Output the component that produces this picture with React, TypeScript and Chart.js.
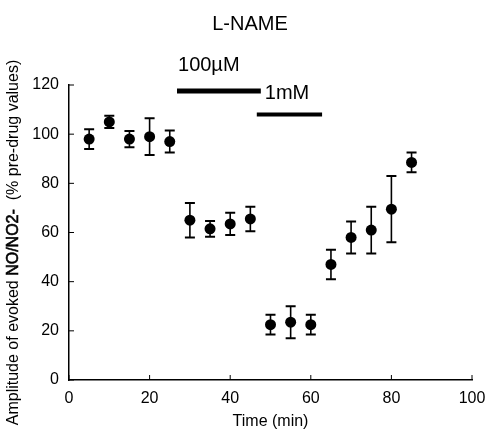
import React, { useEffect, useRef } from "react";
import { Chart, registerables } from "chart.js";

Chart.register(...registerables);

const TITLE = "L-NAME";
const X_TITLE = "Time (min)";
const Y_TITLE_PARTS = ["Amplitude of evoked ", "NO/NO2-", "  (% pre-drug values)"];

const times = [5, 10, 15, 20, 25, 30, 35, 40, 45, 50, 55, 60, 65, 70, 75, 80, 85];
const means = [98, 105, 98, 99, 97, 65, 61.5, 63.5, 65.5, 22.5, 23.5, 22.5, 47, 58, 61, 69.5, 88.5];
const errors = [4, 2.5, 3.3, 7.5, 4.5, 7, 3.2, 4.5, 5, 4, 6.5, 4, 6, 6.5, 9.5, 13.5, 4];

const xTicks = [0, 20, 40, 60, 80, 100];
const yTicks = [0, 20, 40, 60, 80, 100, 120];

const drugLabels = ["100\u00b5M", "1mM"];
const drugStart = [26.8, 46.6];
const drugEnd = [47.6, 62.8];
const drugLevel = [117.6, 108.0];

const FONT = "'Liberation Sans', Arial, Helvetica, sans-serif";

export default function App() {
  const ref = useRef<HTMLCanvasElement | null>(null);

  useEffect(() => {
    if (!ref.current) return;

    const overlay = {
      id: "overlay",
      afterDatasetsDraw(chart: any) {
        const ctx = chart.ctx;
        const xs = chart.scales.x;
        const ys = chart.scales.y;
        ctx.save();
        ctx.strokeStyle = "#000";
        // error bars
        for (let i = 0; i < times.length; i++) {
          const px = xs.getPixelForValue(times[i]);
          const top = ys.getPixelForValue(means[i] + errors[i]);
          const bot = ys.getPixelForValue(means[i] - errors[i]);
          ctx.lineWidth = 1.6;
          ctx.beginPath();
          ctx.moveTo(px, top);
          ctx.lineTo(px, bot);
          ctx.stroke();
          ctx.lineWidth = 2;
          ctx.beginPath();
          ctx.moveTo(px - 5, top);
          ctx.lineTo(px + 5, top);
          ctx.moveTo(px - 5, bot);
          ctx.lineTo(px + 5, bot);
          ctx.stroke();
        }
        // inward tick marks
        ctx.lineWidth = 1;
        const area = chart.chartArea;
        for (const t of yTicks) {
          const py = ys.getPixelForValue(t);
          ctx.beginPath();
          ctx.moveTo(area.left, py);
          ctx.lineTo(area.left + 5, py);
          ctx.stroke();
        }
        for (const t of xTicks) {
          const px = xs.getPixelForValue(t);
          ctx.beginPath();
          ctx.moveTo(px, area.bottom);
          ctx.lineTo(px, area.bottom - 5);
          ctx.stroke();
        }
        // drug application bars
        const widths = [5, 4];
        const labelDx = [1, 8];
        const labelDy = [20, 16];
        ctx.fillStyle = "#000";
        ctx.font = `20px ${FONT}`;
        ctx.textBaseline = "alphabetic";
        ctx.textAlign = "left";
        for (let i = 0; i < drugLabels.length; i++) {
          const x1 = xs.getPixelForValue(drugStart[i]);
          const x2 = xs.getPixelForValue(drugEnd[i]);
          const py = ys.getPixelForValue(drugLevel[i]);
          ctx.lineWidth = widths[i];
          ctx.beginPath();
          ctx.moveTo(x1, py);
          ctx.lineTo(x2, py);
          ctx.stroke();
          ctx.fillText(drugLabels[i], x1 + labelDx[i], py - labelDy[i]);
        }
        // title
        ctx.textAlign = "center";
        ctx.fillText(TITLE, 250, 30);

        // y-axis title (rotated; middle part slightly heavier)
        ctx.font = `16px ${FONT}`;
        let total = 0;
        const widthsT: number[] = [];
        for (let i = 0; i < Y_TITLE_PARTS.length; i++) {
          const w = ctx.measureText(Y_TITLE_PARTS[i]).width;
          widthsT.push(w);
          total += w;
        }
        ctx.translate(14, (area.top + area.bottom) / 2 + 10);
        ctx.rotate(-Math.PI / 2);
        ctx.textAlign = "left";
        ctx.textBaseline = "middle";
        ctx.lineWidth = 0.6;
        let cx = -total / 2;
        for (let i = 0; i < Y_TITLE_PARTS.length; i++) {
          ctx.fillText(Y_TITLE_PARTS[i], cx, 0);
          if (i === 1) ctx.strokeText(Y_TITLE_PARTS[i], cx, 0);
          cx += widthsT[i];
        }
        ctx.restore();
      },
    };

    const chart = new Chart(ref.current, {
      type: "scatter",
      data: {
        datasets: [
          {
            data: times.map((t, i) => ({ x: t, y: means[i] })),
            backgroundColor: "#000",
            borderColor: "#000",
            pointRadius: 5.5,
            pointHoverRadius: 5.5,
            borderWidth: 0,
          },
        ],
      },
      options: {
        animation: false,
        responsive: true,
        maintainAspectRatio: false,
        layout: { padding: { top: 85, right: 15, left: 0, bottom: 0 } },
        plugins: {
          legend: { display: false },
          tooltip: { enabled: false },
          title: { display: false },
        },
        scales: {
          x: {
            type: "linear",
            min: 0,
            max: 100,
            afterBuildTicks: (s: any) => {
              s.ticks = xTicks.map((v) => ({ value: v }));
            },
            afterFit: (s: any) => {
              s.height = 51;
              s.paddingLeft = 0;
              s.paddingRight = 13;
            },
            grid: { display: false, drawTicks: false },
            border: { display: true, color: "#000", width: 1.5 },
            ticks: {
              color: "#000",
              padding: 9,
              font: { family: FONT, size: 16 },
            },
            title: {
              display: true,
              text: X_TITLE,
              color: "#000",
              font: { family: FONT, size: 16 },
              padding: { top: 0, bottom: 0 },
            },
          },
          y: {
            type: "linear",
            min: 0,
            max: 120,
            afterBuildTicks: (s: any) => {
              s.ticks = yTicks.map((v) => ({ value: v }));
            },
            afterFit: (s: any) => {
              s.width = 69;
            },
            grid: { display: false, drawTicks: false },
            border: { display: true, color: "#000", width: 1.5 },
            ticks: {
              color: "#000",
              padding: 10,
              font: { family: FONT, size: 16 },
            },
          },
        },
      },
      plugins: [overlay],
    });

    return () => chart.destroy();
  }, []);

  return (
    <div style={{ position: "fixed", left: 0, top: 0, width: 487, height: 431, background: "#fff" }}>
      <canvas ref={ref} />
    </div>
  );
}
